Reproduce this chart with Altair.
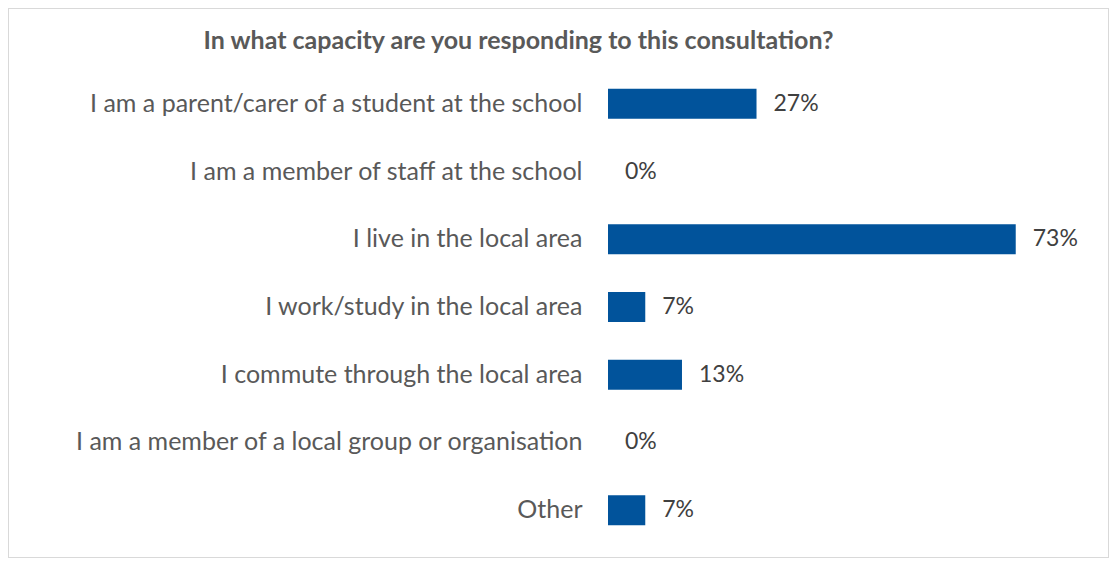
import altair as alt
import pandas as pd

categories = [
    "I am a parent/carer of a student at the school",
    "I am a member of staff at the school",
    "I live in the local area",
    "I work/study in the local area",
    "I commute through the local area",
    "I am a member of a local group or organisation",
    "Other",
]
values = [26.7, 0, 73.3, 6.7, 13.3, 0, 6.7]
labels = ["27%", "0%", "73%", "7%", "13%", "0%", "7%"]

df = pd.DataFrame({"category": categories, "value": values, "label": labels})

FONT = "Lato"
W, H = 445, 474
L, T, R, B = 600, 62, 56, 14

base = alt.Chart(df).encode(
    y=alt.Y(
        "category:N",
        sort=None,
        title=None,
        scale=alt.Scale(paddingInner=0, paddingOuter=0),
        axis=alt.Axis(
            domain=False,
            ticks=False,
            grid=False,
            labelPadding=26,
            labelLimit=600,
            labelFontSize=25,
            labelFont=FONT,
            labelColor="#595959",
        ),
    ),
)

xenc = alt.X("value:Q", title=None, scale=alt.Scale(domain=[0, 80]), axis=None)

bars = base.mark_bar(color="#01539b", size=30).encode(x=xenc)
text = base.mark_text(
    align="left", baseline="middle", dx=17, fontSize=23, font=FONT, color="#404040"
).encode(x=xenc, text="label:N")

border = alt.Chart(df).mark_rect(
    fill=None, stroke="#d9d9d9", strokeWidth=1
).encode(
    x=alt.value(-L + 0.5),
    x2=alt.value(W + R - 0.5),
    y=alt.value(-T + 0.5),
    y2=alt.value(H + B - 0.5),
)

chart = (
    alt.layer(border, bars, text)
    .properties(
        width=W,
        height=H,
        background="white",
        padding={"left": L, "top": T, "right": R, "bottom": B},
        autosize=alt.AutoSizeParams(type="none"),
        title=alt.TitleParams(
            "In what capacity are you responding to this consultation?",
            font=FONT,
            fontSize=25,
            fontWeight="bold",
            color="#595959",
            anchor="middle",
            frame="group",
            dx=-312,
            offset=-46,
        ),
    )
    .configure_view(strokeWidth=0, stroke="transparent")
)

chart.save("out.html", embed_options={"renderer": "svg", "actions": False})
